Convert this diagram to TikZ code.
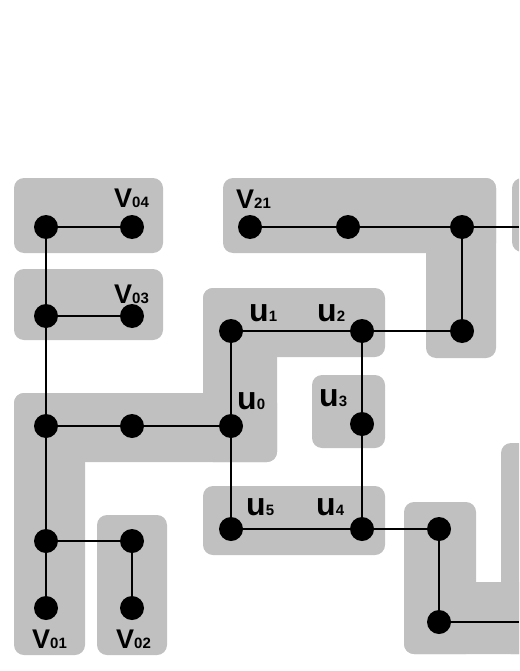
\documentclass[tikz,border=0pt]{standalone}
\usepackage{fontspec}
\setmainfont{Liberation Sans}
\usetikzlibrary{positioning}
\definecolor{blockgray}{RGB}{192,192,192}
\newcommand{\vlab}[1]{{\fontsize{27}{27}\selectfont\bfseries V}{\fontsize{15}{15}\selectfont\bfseries #1}}
\newcommand{\ulab}[1]{{\fontsize{32}{32}\selectfont\bfseries u}{\fontsize{15}{15}\selectfont\bfseries #1}}

\begin{document}
\begin{tikzpicture}[x=1pt, y=-1pt,
    dot/.style={circle, fill=black, minimum size=24pt, inner sep=0pt},
    block/.style={fill=blockgray, rounded corners=10pt},
    lab/.style={anchor=base west, inner sep=0pt},
    edge/.style={line width=1.2pt}]
  \useasboundingbox (0,0) rectangle (519,671);
  \clip (0,0) rectangle (519,671);

  % grey blocks
  \fill[block] (14,178) rectangle (163,253);
  \fill[block] (14,269) rectangle (163,340);
  \fill[block] (223,178) rectangle (496,253);
  \fill[block] (426,178) rectangle (496,358);
  \fill[block] (512,178) rectangle (560,252);
  \fill[block] (203,288) rectangle (385,357);
  \fill[block] (203,288) rectangle (277,462);
  \fill[block] (14,393) rectangle (277,462);
  \fill[block] (14,393) rectangle (85,655);
  \fill[block] (97,515) rectangle (167,655);
  \fill[block] (312,375) rectangle (385,448);
  \fill[block] (203,486) rectangle (385,555);
  \fill[block] (404,502) rectangle (476,654);
  \fill[block] (404,582) rectangle (560,654);
  \fill[block] (501,443) rectangle (560,654);

  % vertices
  \node[dot] (s4) at (46,227) {};
  \node[dot] (s3) at (46,316) {};
  \node[dot] (s2) at (46,426) {};
  \node[dot] (s1) at (46,541) {};
  \node[dot] (v01) at (46,608) {};
  \node[dot] (v04) at (132,227) {};
  \node[dot] (v03) at (132,316) {};
  \node[dot] (m) at (132,426) {};
  \node[dot] (c02) at (132,541) {};
  \node[dot] (v02) at (132,608) {};
  \node[dot] (u0) at (231,426) {};
  \node[dot] (u1) at (231,331) {};
  \node[dot] (u2) at (362,331) {};
  \node[dot] (u3) at (362,424) {};
  \node[dot] (u4) at (362,529) {};
  \node[dot] (u5) at (231,529) {};
  \node[dot] (w1) at (250,227) {};
  \node[dot] (w2) at (348,227) {};
  \node[dot] (w3) at (462,227) {};
  \node[dot] (w4) at (462,331) {};
  \node[dot] (x1) at (439,529) {};
  \node[dot] (x2) at (439,622) {};
  \coordinate (e1) at (519,227);
  \coordinate (e2) at (519,622);

  % edges
  \draw[edge] (s4) -- (v04);
  \draw[edge] (s3) -- (v03);
  \draw[edge] (s4) -- (s3) -- (s2) -- (s1) -- (v01);
  \draw[edge] (s2) -- (m) -- (u0);
  \draw[edge] (s1) -- (c02) -- (v02);
  \draw[edge] (u1) -- (u0) -- (u5);
  \draw[edge] (u1) -- (u2) -- (w4) -- (w3);
  \draw[edge] (w1) -- (w2) -- (w3) -- (e1);
  \draw[edge] (u2) -- (u3) -- (u4);
  \draw[edge] (u5) -- (u4) -- (x1) -- (x2) -- (e2);

  % labels
  \node[lab] (lv04) at (114,207) {\vlab{04}};
  \node[lab] (lv03) at (114,303) {\vlab{03}};
  \node[lab] (lv21) at (236,208) {\vlab{21}};
  \node[lab] (lu1) at (249,321) {\ulab{1}};
  \node[lab] (lu2) at (317,321) {\ulab{2}};
  \node[lab] (lu0) at (237,409) {\ulab{0}};
  \node[lab] (lu3) at (319,406) {\ulab{3}};
  \node[lab] (lu5) at (246,515) {\ulab{5}};
  \node[lab] (lu4) at (316,515) {\ulab{4}};
  \node[lab] (lv01) at (32,648) {\vlab{01}};
  \node[lab] (lv02) at (116,648) {\vlab{02}};
\end{tikzpicture}
\end{document}
